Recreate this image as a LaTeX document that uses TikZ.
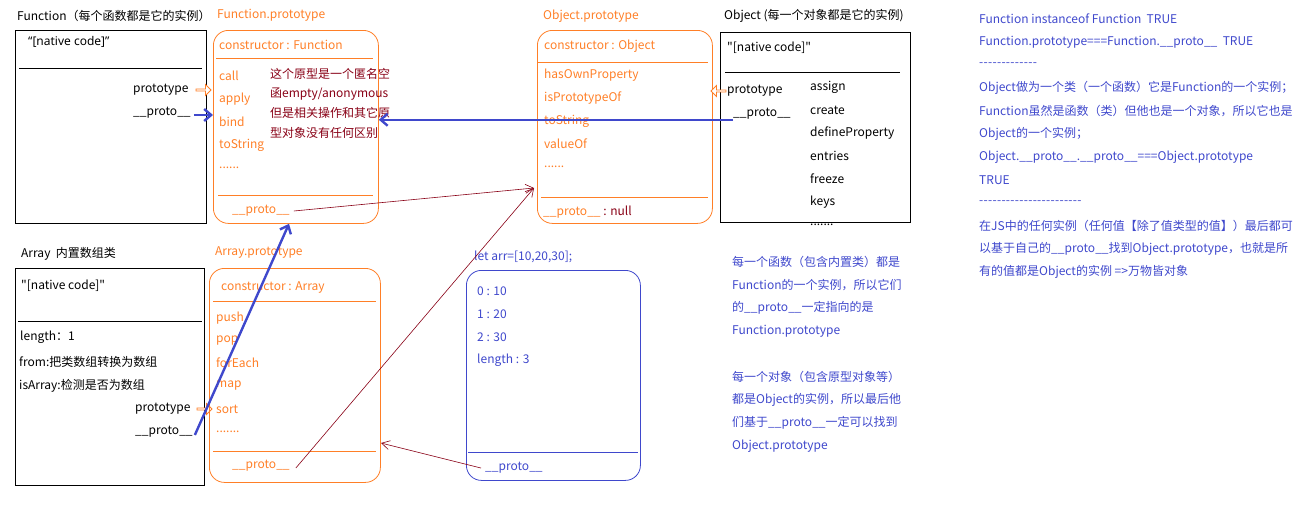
\documentclass[tikz,border=0pt]{standalone}
\usepackage{fontspec}
\newfontfamily\cnfont{Noto Sans CJK SC}
\newfontfamily\latinfont{Noto Sans}
\usepackage{tikz}
\usetikzlibrary{arrows.meta,positioning,shapes.arrows}
\definecolor{pntorange}{RGB}{255,127,39}
\definecolor{pntred}{RGB}{136,0,21}
\definecolor{pntblue}{RGB}{63,72,204}
\newcommand\hyrow[1]{\foreach \k in {1,...,#1}{-\kern0.3pt}}

\begin{document}
\begin{tikzpicture}[
  x=1pt, y=-1pt,
  font=\cnfont\fontsize{12}{14}\selectfont,
  txt/.style={anchor=west, inner sep=0pt},
  otxt/.style={txt, text=pntorange},
  btxt/.style={txt, text=pntblue},
  rtxt/.style={txt, text=pntred},
  cls/.style={draw=black, line width=0.8pt, anchor=north west, inner sep=0pt},
  protobox/.style={draw=pntorange, rounded corners=15pt, line width=0.8pt, anchor=north west, inner sep=0pt},
  hollow/.style={single arrow, draw=pntorange, fill=white, line width=0.8pt, minimum width=11pt, minimum height=15pt, single arrow head extend=2pt, inner sep=0pt},
  bluearr/.style={-{Straight Barb[length=7pt,width=12pt]}, line width=2.4pt, pntblue},
  redarr/.style={-{Straight Barb[length=8pt,width=9pt]}, line width=0.6pt, pntred}
]
\useasboundingbox (0,0) rectangle (1298,522);

% Function class
\node[txt] (ftitle) at (17,16) {Function（每个函数都是它的实例）};
\node[cls, minimum width=191, minimum height=193] (fbox) at (15,30) {};
\node[txt, font=\latinfont\fontsize{12}{14}\selectfont] (fnative) at (28,42) {“[native code]”};
\draw (19,68) -- (202,68);
\node[txt] (fptype) at (133,90) {prototype};
\node[hollow] (fhollow) at (203,90) {};
\node[txt] (fproto) at (133,113) {\_\_proto\_\_};

% Function.prototype
\node[otxt] (fptitle) at (217,15) {Function.prototype};
\node[protobox, minimum width=165, minimum height=193] (fpbox) at (213,30) {};
\node[otxt] (fpctor) at (219,45) {constructor : Function};
\draw[pntorange] (216,58) -- (373,58);
\foreach \t/\yy [count=\i] in {call/76, apply/99, bind/122, toString/145, {......}/168}
  \node[otxt] (fpm\i) at (219,\yy) {\t};
\draw[pntorange] (218,195) -- (373,195);
\node[otxt] (fpproto) at (232,211) {\_\_proto\_\_};
\foreach \t/\yy [count=\i] in {{这个原型是一个匿名空}/74, {函empty/anonymous}/94, {但是相关操作和其它原}/113, {型对象没有任何区别}/133}
  \node[rtxt] (fpnote\i) at (270,\yy) {\t};

% Object.prototype
\node[otxt] (optitle) at (543,16) {Object.prototype};
\node[protobox, minimum width=175, minimum height=193] (opbox) at (537,30) {};
\node[otxt] (opctor) at (544,46) {constructor : Object};
\draw[pntorange] (537,62) -- (708,62);
\foreach \t/\yy [count=\i] in {hasOwnProperty/75, isPrototypeOf/98, toString/121, valueOf/144, {......}/167}
  \node[otxt] (opm\i) at (544,\yy) {\t};
\draw[pntorange] (541,197) -- (708,197);
\node[otxt] (opproto) at (543,212) {\_\_proto\_\_\ \textcolor{pntred}{: null}};
\coordinate (optgt) at (534,188);

% Object class
\node[txt] (otitle) at (724,16) {Object (每一个对象都是它的实例)};
\node[cls, minimum width=190, minimum height=190] (obox) at (720,32) {};
\node[txt] (onative) at (727,48) {"[native code]"};
\draw (725,72) -- (900,72);
\node[hollow, shape border rotate=180] (ohollow) at (719,91) {};
\node[txt] (optype) at (727,91) {prototype};
\node[txt] (oproto) at (733,114) {\_\_proto\_\_};
\foreach \t/\yy [count=\i] in {assign/87, create/110, defineProperty/133, entries/156, freeze/179, keys/202, {.......}/225}
  \node[txt] (om\i) at (810,\yy) {\t};

% Array class
\node[txt] (atitle) at (21,254) {Array\ \ 内置数组类};
\node[cls, minimum width=189, minimum height=217] (abox) at (15,268) {};
\node[txt] (anative) at (21,286) {"[native code]"};
\draw (18,321) -- (202,321);
\node[txt] (alen) at (20,337) {length：1};
\node[txt] (afrom) at (19,362) {from:把类数组转换为数组};
\node[txt] (aisarr) at (19,386) {isArray:检测是否为数组};
\node[txt] (aptype) at (135,409) {prototype};
\node[hollow] (ahollow) at (204,409) {};
\node[txt] (aproto) at (135,432) {\_\_proto\_\_};

% Array.prototype
\node[otxt] (aptitle) at (215,253) {Array.prototype};
\node[protobox, minimum width=171, minimum height=214] (apbox) at (209,268) {};
\node[otxt] (apctor) at (221,288) {constructor : Array};
\draw[pntorange] (213,301) -- (376,301);
\foreach \t/\yy [count=\i] in {push/318, pop/341, forEach/363, map/386, sort/409, {.......}/432}
  \node[otxt] (apm\i) at (216,\yy) {\t};
\draw[pntorange] (213,451) -- (376,451);
\node[otxt] (approto) at (232,466) {\_\_proto\_\_};
\coordinate (aptgt) at (381,443);

% arr instance
\node[btxt] (arrtitle) at (474,257) {let arr=[10,20,30];};
\node[draw=pntblue, rounded corners=15pt, line width=0.8pt, anchor=north west, inner sep=0pt, minimum width=174, minimum height=210] (arrbox) at (466,270) {};
\foreach \t/\yy [count=\i] in {{0 : 10}/291, {1 : 20}/314, {2 : 30}/337, {length : 3}/360}
  \node[btxt] (arrm\i) at (477,\yy) {\t};
\draw[pntblue] (468,452) -- (638,452);
\node[btxt] (arrproto) at (485,468) {\_\_proto\_\_};

% Notes
\foreach \t/\yy [count=\i] in {{每一个函数（包含内置类）都是}/262, {Function的一个实例，所以它们}/285, {的\_\_proto\_\_一定指向的是}/308, {Function.prototype}/331,
  {每一个对象（包含原型对象等）}/377, {都是Object的实例，所以最后他}/400, {们基于\_\_proto\_\_一定可以找到}/423, {Object.prototype}/446}
  \node[btxt] (mnote\i) at (732,\yy) {\t};
\foreach \t [count=\i] in {{Function instanceof Function\ \ TRUE}, {Function.prototype===Function.\_\_proto\_\_\ \ TRUE}, {\hyrow{13}},
  {Object做为一个类（一个函数）它是Function的一个实例；}, {Function虽然是函数（类）但他也是一个对象，所以它也是}, {Object的一个实例；},
  {Object.\_\_proto\_\_.\_\_proto\_\_===Object.prototype}, {TRUE}, {\hyrow{23}},
  {在JS中的任何实例（任何值【除了值类型的值】）最后都可}, {以基于自己的\_\_proto\_\_找到Object.prototype，也就是所}, {有的值都是Object的实例 =>万物皆对象}}
  \node[btxt] (rnote\i) at (979,{19+23*(\i-1)}) {\t};

% Links
\draw[bluearr] ([xshift=3pt,yshift=-2pt]fproto.east) -- ([yshift=-2pt]fproto.east -| fpbox.west);
\draw[bluearr] (oproto.south west) -- (oproto.south west -| fpbox.east);
\draw[bluearr] ([xshift=2pt,yshift=-3pt]aproto.east) -- ([xshift=76pt]fpbox.south west);
\draw[redarr] ([xshift=4pt]fpproto.east) -- (optgt);
\draw[redarr] ([xshift=6pt,yshift=-2pt]approto.east) -- (optgt);
\draw[redarr] ([xshift=-4pt]arrproto.west) -- (aptgt);
\end{tikzpicture}
\end{document}
